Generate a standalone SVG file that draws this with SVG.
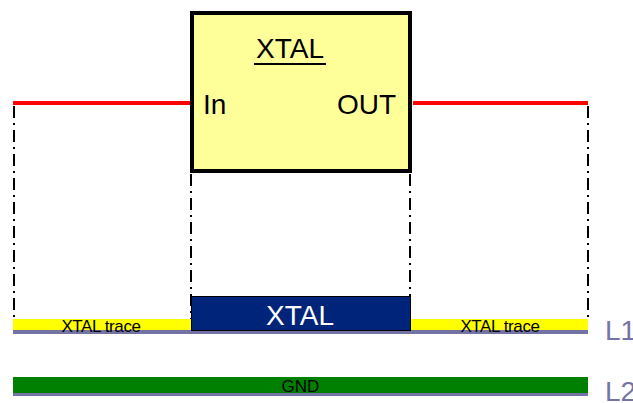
<svg xmlns="http://www.w3.org/2000/svg" width="633" height="403" viewBox="0 0 633 403">
<style>
.t{font-family:"Liberation Sans",Arial,sans-serif}
.dd{stroke:#000;stroke-width:2;stroke-dasharray:12 5 2 5;fill:none}
.red{stroke:#FF0000;stroke-width:4}
.base{fill:#7474A4}
.trace{font-size:17px;letter-spacing:-0.4px}
.lay{font-family:"Liberation Sans",Arial,sans-serif;font-size:28px;fill:#7474A4}
</style>
<rect width="633" height="403" fill="#fff"/>
<g id="connectors">
<line class="red" x1="13" y1="103" x2="190" y2="103"/>
<line class="red" x1="413" y1="103" x2="588" y2="103"/>
<line class="dd" x1="14" y1="106" x2="14" y2="319"/>
<line class="dd" x1="588" y1="106" x2="588" y2="319"/>
<line class="dd" x1="191" y1="174" x2="191" y2="320"/>
<line class="dd" x1="410" y1="174" x2="410" y2="320"/>
</g>
<g id="xtal-box">
<rect x="192" y="13" width="218" height="158" fill="#FFFF99" stroke="#000" stroke-width="4"/>
<text class="t" x="290" y="58" font-size="28" text-anchor="middle">XTAL</text>
<line x1="254" y1="64" x2="326" y2="64" stroke="#000" stroke-width="2"/>
<text class="t" x="203" y="114" font-size="28">In</text>
<text class="t" x="396" y="114" font-size="28" text-anchor="end">OUT</text>
</g>
<g id="layer-L1">
<rect class="base" x="13" y="330" width="575" height="4"/>
<rect x="13" y="319" width="178" height="11" fill="#FFFF00"/>
<rect x="411" y="319" width="177" height="11" fill="#FFFF00"/>
<text class="t trace" x="101" y="332" text-anchor="middle">XTAL trace</text>
<text class="t trace" x="500" y="332" text-anchor="middle">XTAL trace</text>
<text class="lay" x="605" y="340">L1</text>
</g>
<g id="xtal-part">
<rect x="191.5" y="296.5" width="219" height="34" fill="#00247A" stroke="#000" stroke-width="1"/>
<text class="t" x="300" y="325" font-size="28" fill="#fff" text-anchor="middle">XTAL</text>
</g>
<g id="layer-L2">
<rect class="base" x="13" y="393" width="575" height="3"/>
<rect x="13" y="377" width="575" height="16" fill="#008000"/>
<text class="t" x="300.5" y="392" font-size="17" text-anchor="middle">GND</text>
<text class="lay" x="605" y="401">L2</text>
</g>
</svg>
